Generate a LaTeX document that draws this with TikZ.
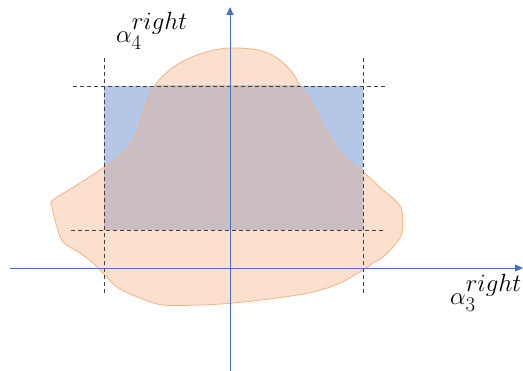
\documentclass[tikz,border=0pt]{standalone}
\usetikzlibrary{arrows.meta}
\definecolor{blobfill}{RGB}{251,224,206}
\definecolor{blobline}{RGB}{244,177,131}
\definecolor{rectfill}{RGB}{180,199,231}
\definecolor{overlapc}{RGB}{203,190,194}
\definecolor{axisblue}{RGB}{68,114,196}
\definecolor{dashgray}{RGB}{64,64,64}
\tikzset{
  axisline/.style={axisblue, line width=0.9pt, -{Triangle[width=7pt,length=8pt]}},
  guide/.style={dashgray, line width=0.9pt, dash pattern=on 4pt off 3pt},
  lbl/.style={inner sep=0pt, font=\fontsize{30}{34}\selectfont},
}
\newcommand\suprt{\raisebox{-3pt}{\fontsize{23}{26}\selectfont$right$}}
\def\blobpath{plot[smooth cycle, tension=0.6] coordinates {
(230,48) (258,50) (277,58) (292,72) (300,86) (310,100) (320,120) (330,137) (343,157) (363,172) (383,190) (397,202) (402,212) (402,233) (393,247) (383,257) (373,263) (363,270) (340,283) (313,292) (277,298) (233,303) (200,305) (163,305) (140,298) (117,287) (102,272) (93,263) (80,253) (63,242) (57,227) (52,207) (53,200) (77,185) (103,168) (123,153) (135,137) (143,113) (149,96) (159,80) (175,66) (192,57) (210,51)}}
\begin{document}
\begin{tikzpicture}[x=1pt,y=-1pt]
\useasboundingbox (0,0) rectangle (523,371);
% rectangle region
\fill[rectfill] (104,86) rectangle (363,230);
% blob
\fill[blobfill] \blobpath;
\begin{scope}
  \clip (104,86) rectangle (363,230);
  \fill[overlapc] \blobpath;
\end{scope}
\draw[blobline, line width=0.8pt] \blobpath;
% guide coordinates
\coordinate (vl1) at (104,58);
\coordinate (vl2) at (104,294);
\coordinate (vr1) at (363,58);
\coordinate (vr2) at (363,294);
\coordinate (ht1) at (73,86);
\coordinate (ht2) at (387,86);
\coordinate (hb1) at (71,230);
\coordinate (hb2) at (385,230);
\draw[guide] (vl1) -- (vl2);
\draw[guide] (vr1) -- (vr2);
\draw[guide] (ht1) -- (ht2);
\draw[guide] (hb1) -- (hb2);
% axes
\coordinate (xs) at (10,268);
\coordinate (xe) at (523,268);
\coordinate (ys) at (230,371);
\coordinate (ye) at (230,7);
\draw[axisline] (xs) -- (xe);
\draw[axisline] (ys) -- (ye);
% labels
\node[lbl, anchor=base west] (lab4) at (116,43) {$\alpha_4^{\suprt}$};
\node[lbl, anchor=base west] (lab3) at (450,305) {$\alpha_3^{\suprt}$};
\end{tikzpicture}
\end{document}
